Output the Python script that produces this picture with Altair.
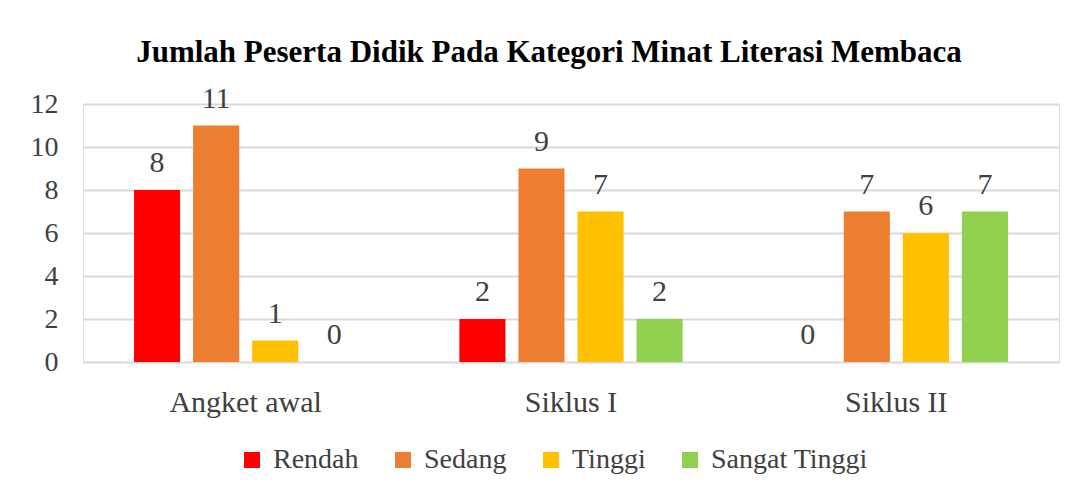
import altair as alt
import pandas as pd

groups = ["Angket awal", "Siklus I", "Siklus II"]
series = ["Rendah", "Sedang", "Tinggi", "Sangat Tinggi"]
colors = ["#FF0000", "#ED7D31", "#FFC000", "#92D050"]
values = {
    "Rendah": [8, 2, 0],
    "Sedang": [11, 9, 7],
    "Tinggi": [1, 7, 6],
    "Sangat Tinggi": [0, 2, 7],
}

rows = []
for s in series:
    for g, v in zip(groups, values[s]):
        rows.append({"Kelompok": g, "Kategori": s, "Jumlah": v})
df = pd.DataFrame(rows)

FONT = "Liberation Serif"

x = alt.X("Kelompok:N", sort=groups, title=None,
          scale=alt.Scale(paddingInner=0, paddingOuter=0),
          axis=alt.Axis(labelAngle=0, labelFontSize=30, labelFont=FONT, labelColor="#404040",
                        ticks=False, domain=False, labelPadding=25))
xo = alt.XOffset("Kategori:N", sort=series,
                 scale=alt.Scale(paddingInner=0.22, paddingOuter=0.864))
y = alt.Y("Jumlah:Q", title=None,
          scale=alt.Scale(domain=[0, 12], nice=False),
          axis=alt.Axis(values=[0, 2, 4, 6, 8, 10, 12], labelFontSize=28, labelFont=FONT,
                        labelColor="#404040", ticks=False, domain=False, labelPadding=25,
                        gridColor="#D9D9D9", gridWidth=2))

bars = alt.Chart(df).mark_bar().encode(
    x=x, xOffset=xo, y=y,
    color=alt.Color("Kategori:N", sort=series,
                    scale=alt.Scale(domain=series, range=colors),
                    legend=alt.Legend(title=None, orient="none", direction="horizontal",
                                      legendX=155, legendY=342, symbolType="square",
                                      symbolSize=256, symbolStrokeWidth=0,
                                      labelFontSize=28, labelFont=FONT, labelColor="#404040",
                                      labelLimit=400, columnPadding=30, labelOffset=7)),
)

labels = alt.Chart(df).mark_text(baseline="bottom", dy=-12, fontSize=30, font=FONT,
                                 color="#404040").encode(
    x=alt.X("Kelompok:N", sort=groups),
    xOffset=alt.XOffset("Kategori:N", sort=series),
    y=alt.Y("Jumlah:Q"),
    text=alt.Text("Jumlah:Q"),
)

chart = (bars + labels).properties(
    width=976, height=258,
    padding={"left": 75, "top": 96, "right": 8, "bottom": 120},
    autosize=alt.AutoSizeParams(type="none"),
    title=alt.TitleParams("Jumlah Peserta Didik Pada Kategori Minat Literasi Membaca",
                          font=FONT, fontSize=31, fontWeight="bold", color="#000000",
                          anchor="middle", offset=15, dx=-22),
).configure_view(stroke=None).configure(background="white", font=FONT)

chart.save("out.html", embed_options={"renderer": "svg", "actions": False})
